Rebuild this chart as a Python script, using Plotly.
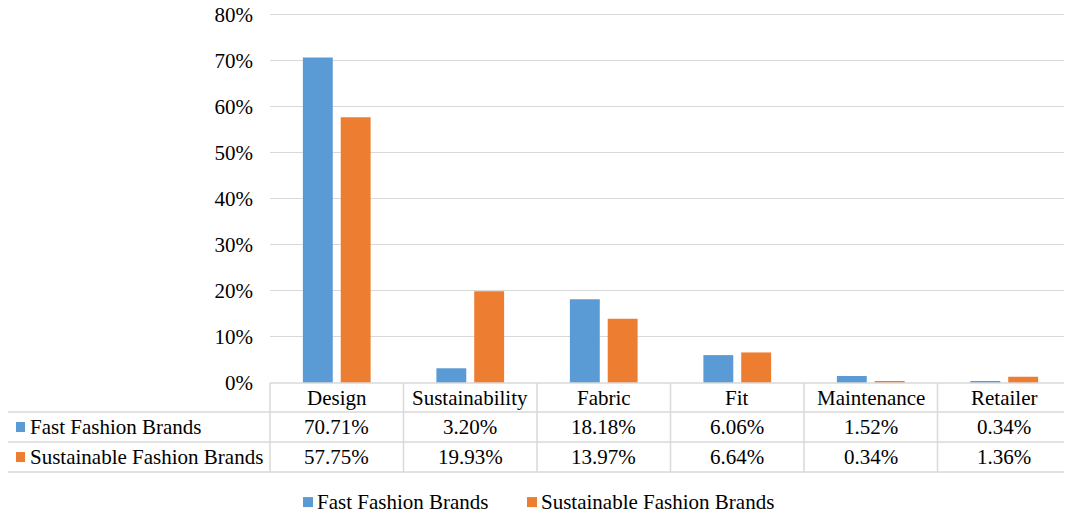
import plotly.graph_objects as go

categories = ["Design", "Sustainability", "Fabric", "Fit", "Maintenance", "Retailer"]
series_names = ["Fast Fashion Brands", "Sustainable Fashion Brands"]
fast_values = [70.71, 3.20, 18.18, 6.06, 1.52, 0.34]
sustainable_values = [57.75, 19.93, 13.97, 6.64, 0.34, 1.36]
series_values = [fast_values, sustainable_values]
colors = ["#5B9BD5", "#ED7D31"]
y_tick_values = [0, 10, 20, 30, 40, 50, 60, 70, 80]
y_tick_labels = [f"{v}%" for v in y_tick_values]

# page is rendered with an 8px body margin, so the figure is sized to fit the window
OFF = 8
W, H = 1072 - OFF, 516 - OFF
Y_MAX = 80.6
PX_PER_UNIT = (383 - 15) / 80.0
ML, MR, MB = 270 - OFF, 1, 133
PH = Y_MAX * PX_PER_UNIT
MT = H - MB - PH
PW = W - ML - MR
FONT = "Liberation Serif"
LINE = "#d9d9d9"
TXT = "#000000"


def px(x):
    """page pixel x -> paper x"""
    return (x - OFF - ML) / PW


def py(y):
    """page pixel y -> paper y"""
    return (H - MB - (y - OFF)) / PH


fig = go.Figure()
for name, vals, col in zip(series_names, series_values, colors):
    fig.add_trace(go.Bar(name=name, x=categories, y=vals, showlegend=False,
                         marker=dict(color=col, line=dict(width=0))))

n = len(categories)
shapes = []
annotations = []
lw = 1.5

row_tops = [383, 412, 442, 472]
left_px = 7

# table grid
for i in range(n + 1):
    shapes.append(dict(type="line", xref="paper", yref="paper", x0=i / n, x1=i / n,
                       y0=py(row_tops[0]), y1=py(row_tops[3]), line=dict(color=LINE, width=lw)))
shapes.append(dict(type="line", xref="paper", yref="paper", x0=px(left_px), x1=px(left_px),
                   y0=py(row_tops[1]), y1=py(row_tops[3]), line=dict(color=LINE, width=lw)))
shapes.append(dict(type="line", xref="paper", yref="paper", x0=0, x1=1,
                   y0=py(row_tops[0]), y1=py(row_tops[0]), line=dict(color=LINE, width=lw)))
for r in row_tops[1:]:
    shapes.append(dict(type="line", xref="paper", yref="paper", x0=px(left_px), x1=1,
                       y0=py(r), y1=py(r), line=dict(color=LINE, width=lw)))

txt_font = dict(family=FONT, size=21, color=TXT)

# header labels
for i, c in enumerate(categories):
    annotations.append(dict(x=(i + 0.5) / n, y=py((row_tops[0] + row_tops[1]) / 2), xref="paper", yref="paper",
                            xanchor="center", yanchor="middle", text=c, showarrow=False, font=txt_font))

# data rows
for ri, (name, vals, col) in enumerate(zip(series_names, series_values, colors)):
    yc = (row_tops[ri + 1] + row_tops[ri + 2]) / 2
    shapes.append(dict(type="rect", xref="paper", yref="paper", x0=px(16), x1=px(25),
                       y0=py(yc + 5), y1=py(yc - 5), fillcolor=col, line=dict(width=0)))
    annotations.append(dict(x=px(28), y=py(yc), xref="paper", yref="paper", xanchor="left", yanchor="middle",
                            text=name, showarrow=False, font=txt_font))
    for i, v in enumerate(vals):
        annotations.append(dict(x=(i + 0.5) / n, y=py(yc), xref="paper", yref="paper",
                                xanchor="center", yanchor="middle",
                                text=f"{v:.2f}%", showarrow=False, font=txt_font))

# legend (bottom)
legend_marker_x = [303, 527]
legend_y = 502
for name, col, mx in zip(series_names, colors, legend_marker_x):
    shapes.append(dict(type="rect", xref="paper", yref="paper", x0=px(mx), x1=px(mx + 10),
                       y0=py(legend_y + 5), y1=py(legend_y - 5), fillcolor=col, line=dict(width=0)))
    annotations.append(dict(x=px(mx + 12), y=py(legend_y), xref="paper", yref="paper",
                            xanchor="left", yanchor="middle", text=name, showarrow=False, font=txt_font))

fig.update_layout(
    width=W, height=H,
    margin=dict(l=ML, r=MR, t=MT, b=MB, autoexpand=False),
    paper_bgcolor="white", plot_bgcolor="white",
    barmode="group", bargap=0.433, bargroupgap=0.21,
    font=txt_font,
    showlegend=False,
    xaxis=dict(showticklabels=False, showgrid=False, zeroline=False, showline=False, ticks=""),
    yaxis=dict(range=[0, Y_MAX], tickmode="array", tickvals=y_tick_values, ticktext=y_tick_labels,
               showgrid=True, gridcolor=LINE, gridwidth=1.3, zeroline=False, showline=False,
               ticklabelstandoff=16, ticklabeloverflow="allow", tickfont=txt_font),
    shapes=shapes, annotations=annotations,
)

fig.write_html("out.html")
